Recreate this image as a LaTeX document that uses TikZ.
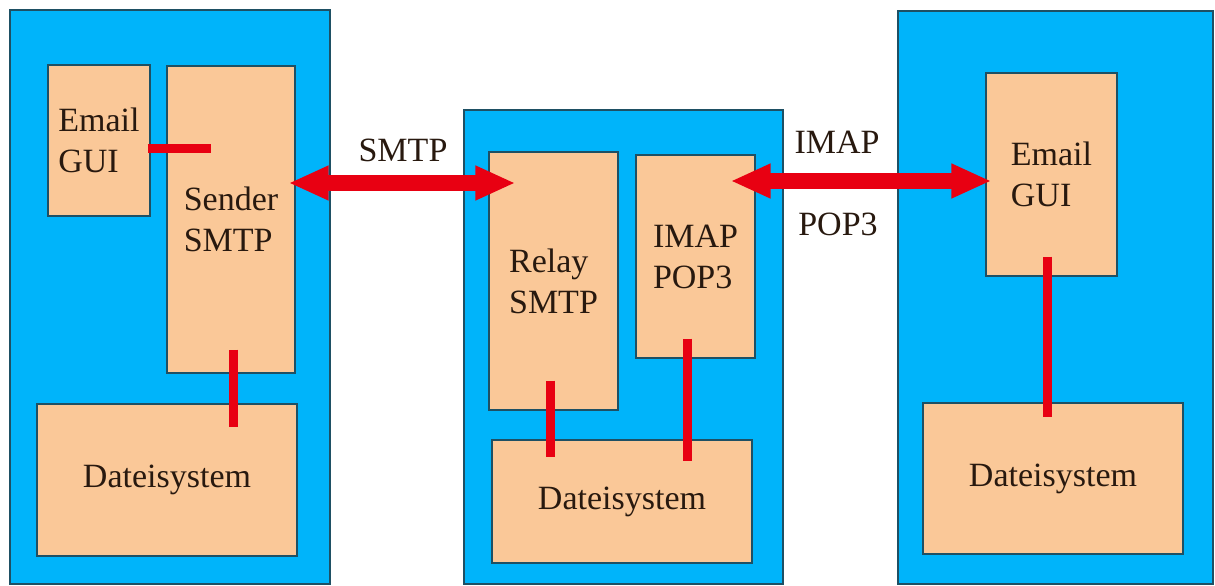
\documentclass[tikz,border=0pt]{standalone}
\usepackage{fontspec}
\setmainfont{Liberation Serif}
\usepackage{tikz}
\usetikzlibrary{positioning,arrows.meta}
\definecolor{panelblue}{RGB}{0,180,250}
\definecolor{peach}{RGB}{250,200,152}
\definecolor{edge}{RGB}{30,80,100}
\definecolor{linkred}{RGB}{232,0,18}
\definecolor{ink}{RGB}{40,25,15}

\begin{document}
\begin{tikzpicture}[x=1pt,y=-1pt]
  \tikzstyle{panel}=[rectangle, draw=edge, line width=1.2pt, fill=panelblue]
  \tikzstyle{box}=[rectangle, draw=edge, line width=1.2pt, fill=peach, inner sep=0pt,
    text=ink, align=left, font=\fontsize{34pt}{41pt}\selectfont]
  \tikzstyle{link}=[draw=linkred, line width=9pt]
  \tikzstyle{fat}=[draw=linkred, line width=16pt,
    {Triangle[length=40pt,width=32pt]}-{Triangle[length=40pt,width=32pt]}]
  \tikzstyle{label}=[text=ink, font=\fontsize{34pt}{41pt}\selectfont]
  \useasboundingbox (0,0) rectangle (1215,586);
  % panels
  \node (p1) [panel, minimum width=320pt, minimum height=574pt] at (170,297) {};
  \node (p2) [panel, minimum width=319pt, minimum height=474pt] at (623.5,347) {};
  \node (p3) [panel, minimum width=315pt, minimum height=573pt] at (1055.5,297.5) {};
  % left nodes
  \node (gui1) [box, minimum width=102pt, minimum height=151pt] at (99,140.5) {Email\\GUI};
  \node (sender) [box, minimum width=128pt, minimum height=307pt] at (231,219.5) {Sender\\SMTP};
  \node (datei1) [box, minimum width=260pt, minimum height=152pt] at (167,480) {Dateisystem};
  % middle nodes
  \node (relay) [box, minimum width=129pt, minimum height=258pt] at (553.5,281) {Relay\\SMTP};
  \node (imap) [box, minimum width=119pt, minimum height=203pt] at (695.5,256.5) {IMAP\\POP3};
  \node (datei2) [box, minimum width=260pt, minimum height=123pt] at (622,501.5) {Dateisystem};
  % right nodes
  \node (gui3) [box, minimum width=131pt, minimum height=203pt] at (1051.5,174.5) {Email\\GUI};
  \node (datei3) [box, minimum width=260pt, minimum height=151pt] at (1053,478.5) {Dateisystem};
  % links
  \draw [link, shorten <=-3pt, shorten >=-45pt] ([yshift=-7.5pt]gui1.east) -- ([yshift=71.5pt]sender.west);
  \draw [link, shorten <=-24pt, shorten >=-24pt] ([xshift=2pt]sender.south) -- ([xshift=66pt]datei1.north);
  \draw [link, shorten <=-30pt, shorten >=-18pt] ([xshift=-3.5pt]relay.south) -- ([xshift=-72pt]datei2.north);
  \draw [link, shorten <=-20pt, shorten >=-22pt] ([xshift=-8.5pt]imap.south) -- ([xshift=65pt]datei2.north);
  \draw [link, shorten <=-20pt, shorten >=-15pt] ([xshift=-4.5pt]gui3.south) -- ([xshift=-6pt]datei3.north);
  % protocols
  \draw [fat, shorten <=-7pt, shorten >=-27pt] ([yshift=36.5pt]sender.east) -- ([yshift=98pt]relay.west);
  \draw [fat, shorten <=-25pt, shorten >=-6pt] ([yshift=75.5pt]imap.east) -- ([yshift=-6.5pt]gui3.west);
  \node (smtp) [label] at (403,150) {SMTP};
  \node (imaplbl) [label] at (837,142) {IMAP};
  \node (pop) [label] at (838,224) {POP3};
\end{tikzpicture}
\end{document}
